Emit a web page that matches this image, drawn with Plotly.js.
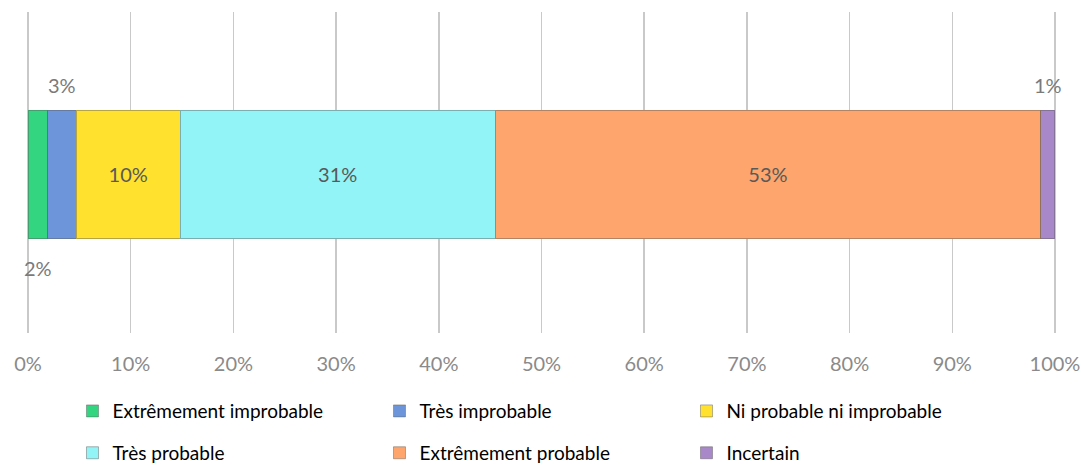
<!DOCTYPE html>
<html><head><meta charset="utf-8">
<script src="https://cdn.plot.ly/plotly-3.0.1.min.js"></script>
<style>html,body{margin:0;padding:0;background:#fff}#c{width:1082px;height:465px}</style>
</head><body><div id="c"></div>
<script>
var categories = ["Extrêmement improbable","Très improbable","Ni probable ni improbable","Très probable","Extrêmement probable","Incertain"];
var values = [1.9, 2.8, 10.1, 30.7, 53.1, 1.4];
var colors = ["#33d580","#6d96da","#ffe12e","#92f4f7","#fda56c","#a888c8"];
var tickVals = [0,10,20,30,40,50,60,70,80,90,100];
var tickText = ["0%","10%","20%","30%","40%","50%","60%","70%","80%","90%","100%"];
var insideLabel = [false,false,true,true,true,false];
var outsideSide = [-1, 1, 0, 0, 0, 1]; // -1 below, 1 above

var FONT = "Lato, 'Noto Sans', sans-serif";
var traces = [];
var annotations = [];
var cum = 0;
for (var i = 0; i < categories.length; i++) {
  var mid = cum + values[i] / 2;
  traces.push({
    type: 'bar', orientation: 'h', name: categories[i],
    x: [values[i]], y: [0],
    marker: {color: colors[i], line: {color: 'rgba(90,90,90,0.45)', width: 1}},
    text: insideLabel[i] ? [Math.round(values[i]) + '%'] : [''],
    textposition: 'inside', insidetextanchor: 'middle',
    textfont: {family: FONT, size: 20, color: '#595959'},
    hoverinfo: 'name+x',
    legend: i < 3 ? 'legend' : 'legend2'
  });
  if (!insideLabel[i]) {
    annotations.push({
      x: mid, y: outsideSide[i] > 0 ? 0.28 : -0.29, xref: 'x', yref: 'y',
      text: Math.round(values[i]) + '%', showarrow: false,
      font: {family: FONT, size: 20, color: '#7a7a7a'}
    });
  }
  cum += values[i];
}

var layout = {
  width: 1082, height: 465,
  margin: {l: 27, r: 26, t: 12, b: 132},
  paper_bgcolor: '#fff', plot_bgcolor: '#fff',
  barmode: 'stack', bargap: 0.6,
  showlegend: true,
  xaxis: {range: [-0.1, 100.1], tickvals: tickVals, ticktext: tickText,
    showgrid: true, gridcolor: '#c9c9c9', gridwidth: 1.5, zeroline: false,
    showline: false, ticks: '', ticklabelstandoff: 17,
    tickfont: {family: FONT, size: 20, color: '#8a8a8a'}, fixedrange: true},
  yaxis: {range: [-0.494, 0.506], visible: false, fixedrange: true},
  legend: {orientation: 'h', xref: 'container', yref: 'container', x: 0.067, y: 0.116,
    xanchor: 'left', yanchor: 'middle', entrywidth: 262, traceorder: 'normal',
    font: {family: FONT, size: 19, color: '#000'}, bgcolor: 'rgba(0,0,0,0)'},
  legend2: {orientation: 'h', xref: 'container', yref: 'container', x: 0.067, y: 0.026,
    xanchor: 'left', yanchor: 'middle', entrywidth: 262, traceorder: 'normal',
    font: {family: FONT, size: 19, color: '#000'}, bgcolor: 'rgba(0,0,0,0)'},
  annotations: annotations
};
Plotly.newPlot('c', traces, layout, {displayModeBar: false, staticPlot: true});
</script></body></html>
